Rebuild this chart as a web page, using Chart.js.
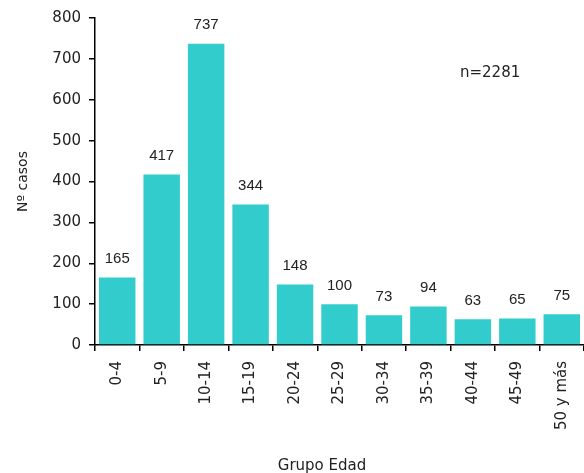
<!DOCTYPE html>
<html lang="es">
<head>
  <meta charset="UTF-8">
  <title>Casos por grupo de edad</title>
  <script src="https://cdn.jsdelivr.net/npm/chart.js"></script>
  <style>
    body { margin: 0; background: #fff; }
  </style>
</head>
<body>
  <canvas id="myChart" width="584" height="473"></canvas>

  <script>
    const grupos = ['0-4', '5-9', '10-14', '15-19', '20-24', '25-29', '30-34', '35-39', '40-44', '45-49', '50 y más'];
    const casos = [165, 417, 737, 344, 148, 100, 73, 94, 63, 65, 75];
    const yTicks = [0, 100, 200, 300, 400, 500, 600, 700, 800];
    const totalText = 'n=2281';

    // numbers above bars, n= note and x title
    const textPlugin = {
      id: 'textPlugin',
      afterDatasetsDraw(chart) {
        const ctx = chart.ctx;
        const meta = chart.getDatasetMeta(0);
        ctx.save();
        ctx.fillStyle = '#222';
        ctx.font = '15px "Liberation Sans", Arial, sans-serif';
        ctx.textAlign = 'center';
        ctx.textBaseline = 'bottom';
        meta.data.forEach((bar, i) => {
          ctx.fillText(casos[i], bar.x, bar.y - 11);
        });

        const area = chart.chartArea;
        ctx.font = '15px "DejaVu Sans", sans-serif';
        ctx.textAlign = 'left';
        ctx.textBaseline = 'middle';
        ctx.fillText(totalText, area.left + 365, area.top + 55);

        ctx.textAlign = 'center';
        ctx.fillText('Grupo Edad', area.left + 227, 466);
        ctx.restore();
      }
    };

    const ctx = document.getElementById('myChart').getContext('2d');
    const myChart = new Chart(ctx, {
      type: 'bar',
      data: {
        labels: grupos,
        datasets: [{
          data: casos,
          backgroundColor: '#33cccc',
          borderWidth: 0,
          barPercentage: 0.82,
          categoryPercentage: 1
        }]
      },
      options: {
        responsive: false,
        animation: false,
        layout: { padding: { top: 18, right: 0, left: 0, bottom: 0 } },
        plugins: {
          legend: { display: false },
          tooltip: { enabled: false }
        },
        scales: {
          x: {
            afterFit(scale) {
              scale.height = 128;
              scale.paddingRight = 0;
            },
            grid: { drawOnChartArea: false, tickLength: 6, color: '#000', lineWidth: 1.5 },
            border: { color: '#000', width: 1.5 },
            ticks: {
              autoSkip: false,
              minRotation: 90,
              maxRotation: 90,
              padding: 10,
              color: '#222',
              font: { family: '"DejaVu Sans", sans-serif', size: 15 }
            }
          },
          y: {
            min: 0,
            max: 800,
            afterFit(scale) { scale.width = 95; },
            afterBuildTicks(scale) { scale.ticks = yTicks.map(v => ({ value: v })); },
            grid: { drawOnChartArea: false, tickLength: 6, color: '#000', lineWidth: 1.5 },
            border: { color: '#000', width: 1.5 },
            ticks: {
              padding: 8,
              color: '#222',
              font: { family: '"DejaVu Sans", sans-serif', size: 15 }
            },
            title: {
              display: true,
              text: 'Nº casos',
              color: '#222',
              padding: { top: 15, bottom: 4 },
              font: { family: '"DejaVu Sans", sans-serif', size: 14 }
            }
          }
        }
      },
      plugins: [textPlugin]
    });
  </script>
</body>
</html>
